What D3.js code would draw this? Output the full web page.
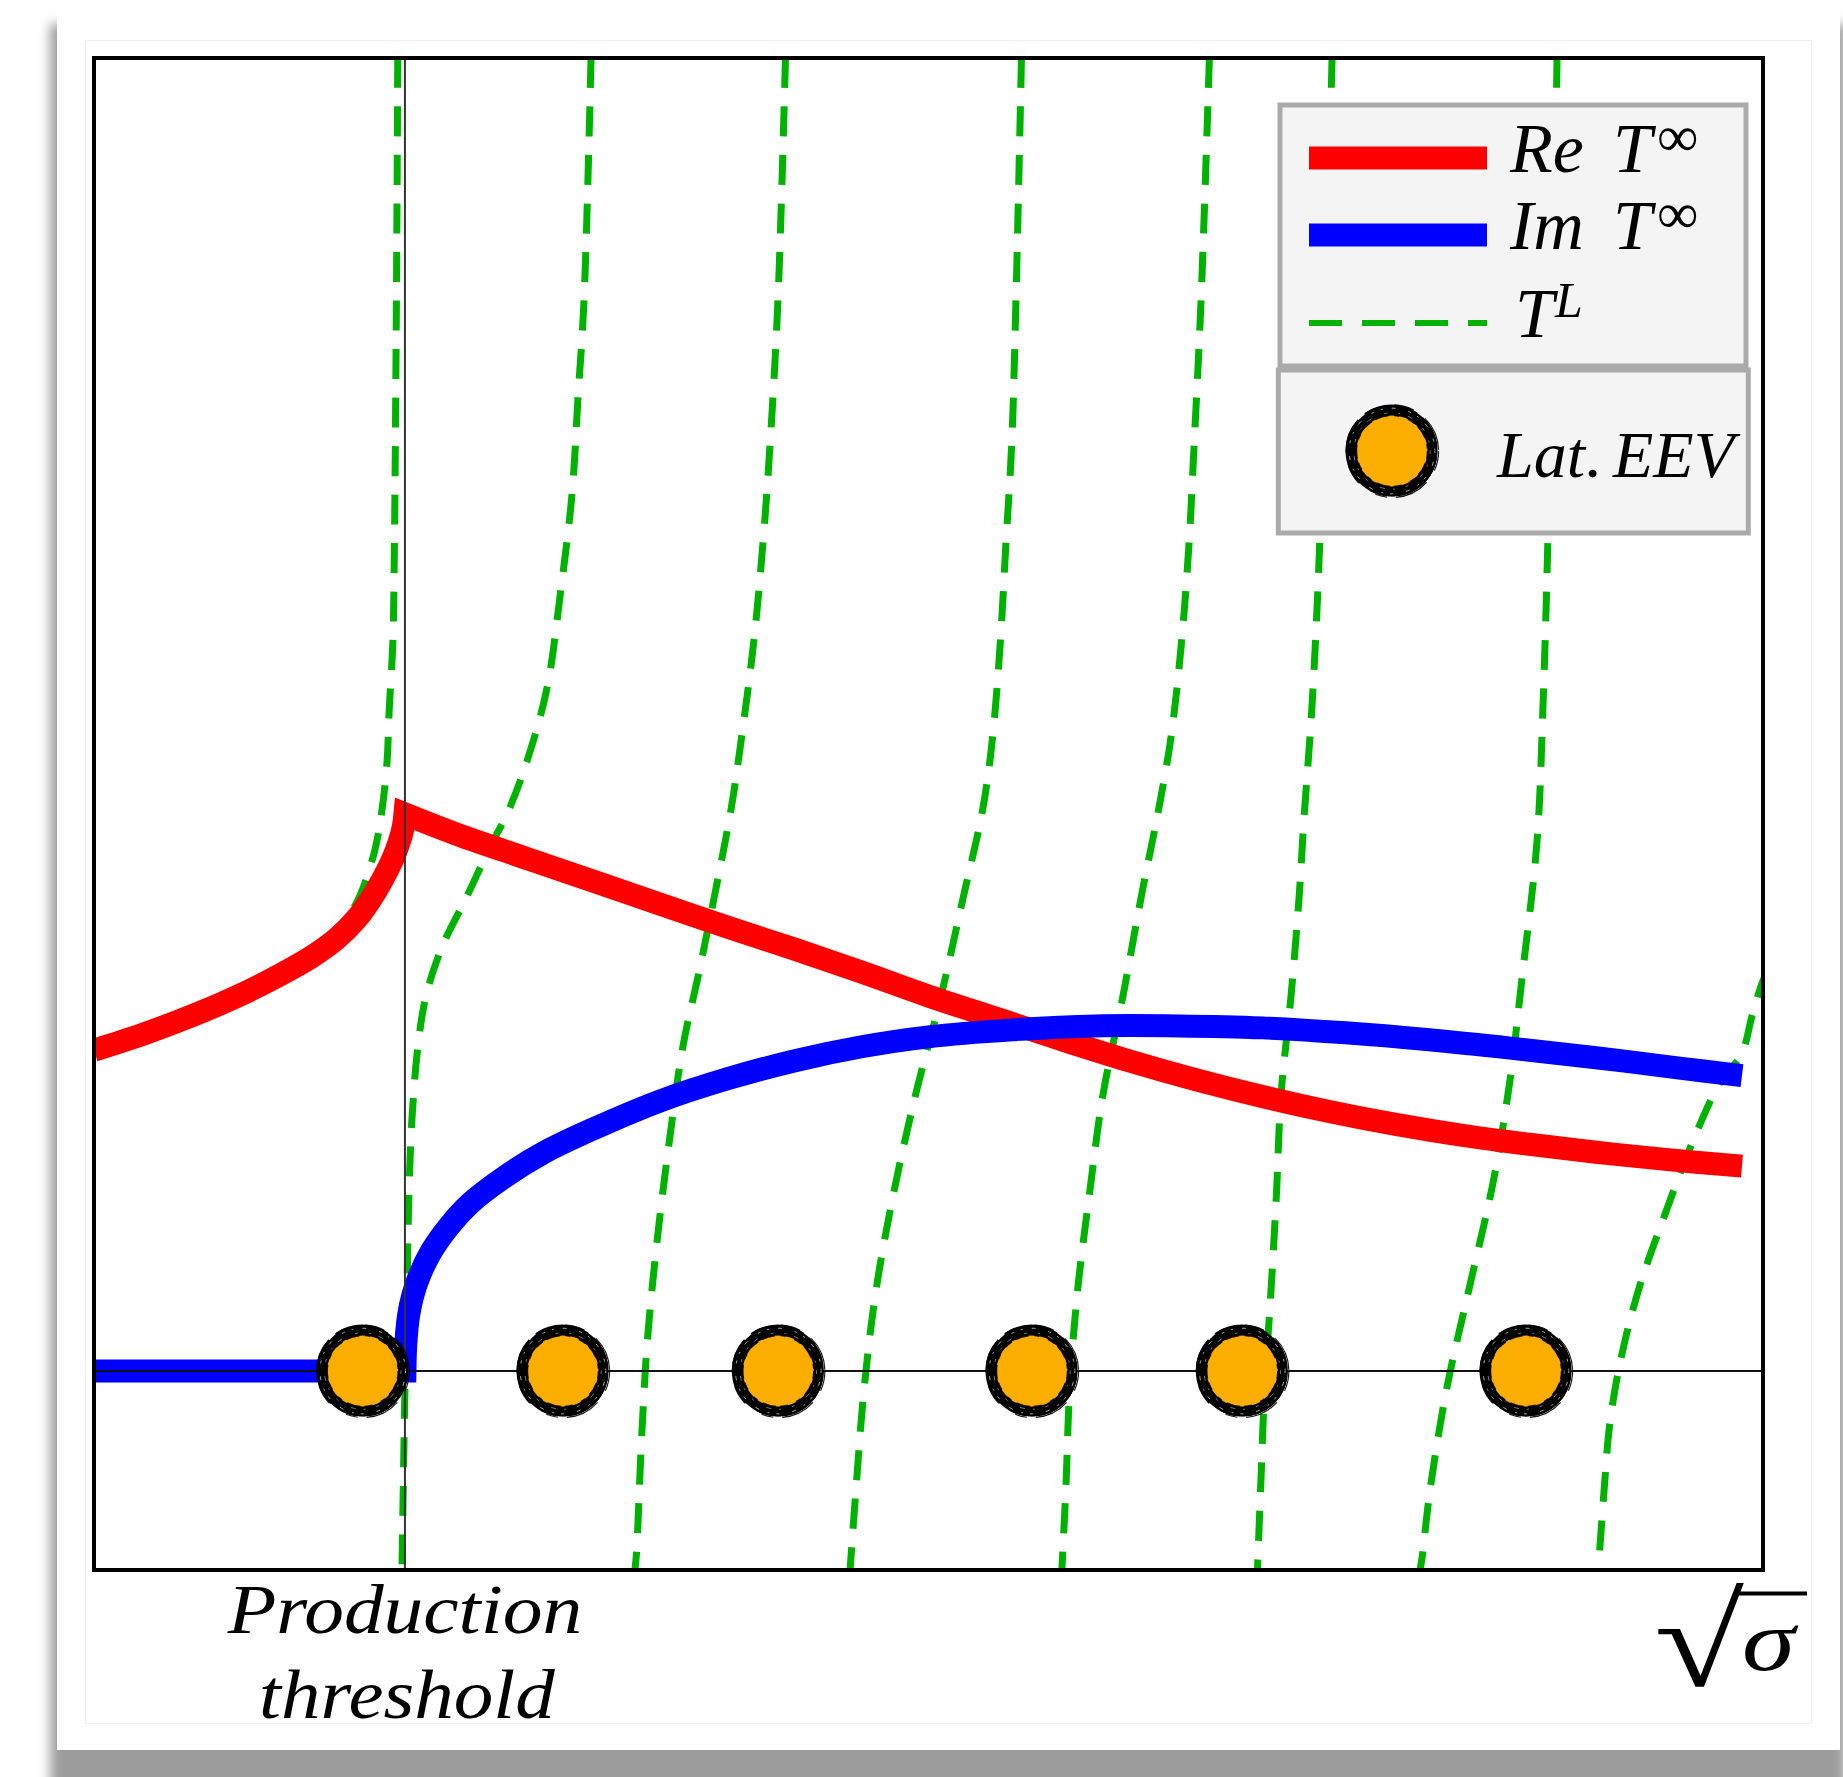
<!DOCTYPE html>
<html>
<head>
<meta charset="utf-8">
<script src="https://cdn.jsdelivr.net/npm/d3@7"></script>
<style>
  html, body { margin: 0; padding: 0; background: #fff; }
  svg { display: block; }
</style>
</head>
<body>
<svg id="chart" width="1843" height="1777"></svg>
<script>
// ---- data (x in units of sqrt(sigma), y in arbitrary amplitude units) ----
const thresholdX = 1.863;

// lattice energy eigenvalues (all on the real axis)
const eevX = [1.61, 2.81, 4.10, 5.62, 6.88, 8.58];

// Re T∞ : below threshold (rising into the cusp) and above threshold
const reBelow = [[0, 1.613], [0.3, 1.695], [0.6, 1.79], [0.9, 1.90], [1.1, 1.985], [1.3, 2.08],
                 [1.45, 2.17], [1.58, 2.28], [1.68, 2.40], [1.76, 2.52], [1.81, 2.615],
                 [1.84, 2.69], [1.855, 2.745], [1.863, 2.80]];
const reAbove = [[1.863, 2.80], [2.2, 2.69], [2.6, 2.575], [3.0, 2.46], [3.4, 2.345], [3.8, 2.23],
                 [4.2, 2.12], [4.6, 2.005], [5.0, 1.885], [5.4, 1.775], [5.8, 1.665], [6.2, 1.56],
                 [6.6, 1.465], [7.0, 1.38], [7.4, 1.305], [7.8, 1.24], [8.2, 1.185], [8.6, 1.14],
                 [9.0, 1.10], [9.4, 1.065], [9.874, 1.030]];

// Im T∞ : zero below threshold, square-root opening above
const imBelow = [[0, 0], [1.863, 0]];
const imAbove = [[1.863, 0], [1.866, 0.10], [1.872, 0.18], [1.885, 0.28], [1.91, 0.38], [1.95, 0.48],
                 [2.02, 0.60], [2.12, 0.72], [2.25, 0.84], [2.45, 0.97], [2.70, 1.10], [3.00, 1.22],
                 [3.40, 1.36], [3.80, 1.47], [4.20, 1.56], [4.60, 1.63], [5.00, 1.68], [5.50, 1.715],
                 [6.00, 1.735], [6.50, 1.735], [7.00, 1.725], [7.50, 1.70], [8.00, 1.665], [8.50, 1.622],
                 [9.00, 1.575], [9.50, 1.523], [9.874, 1.485]];

// T^L : finite-volume amplitude branches, each listed top to bottom as [x, y]
const tLBranch1 = [[1.820, 6.60], [1.812, 5.387], [1.800, 4.161], [1.791, 3.673], [1.768, 3.312],
                   [1.756, 3.065], [1.726, 2.824], [1.684, 2.623], [1.600, 2.402], [1.520, 2.27]];
const tLBranch2 = [[2.978, 6.60], [2.936, 5.382], [2.900, 4.894], [2.864, 4.407], [2.796, 3.920],
                   [2.714, 3.432], [2.594, 3.065], [2.487, 2.824], [2.367, 2.623], [2.229, 2.377],
                   [2.085, 2.131], [1.989, 1.884], [1.941, 1.633], [1.905, 1.266], [1.887, 0.894],
                   [1.875, 0.402], [1.863, -0.090], [1.845, -1.0]];
const tLBranch3 = [[4.143, 6.60], [4.098, 5.382], [4.050, 4.648], [4.008, 4.161], [3.954, 3.673],
                   [3.880, 3.186], [3.817, 2.824], [3.715, 2.377], [3.625, 2.005], [3.529, 1.633],
                   [3.445, 1.141], [3.373, 0.648], [3.316, 0.156], [3.281, -0.337], [3.250, -0.920],
                   [3.241, -1.0]];
const tLBranch4 = [[5.557, 6.60], [5.524, 5.382], [5.498, 4.648], [5.464, 4.161], [5.431, 3.673],
                   [5.384, 3.186], [5.325, 2.824], [5.207, 2.377], [5.075, 1.884], [4.922, 1.387],
                   [4.791, 0.894], [4.685, 0.402], [4.614, -0.090], [4.566, -0.588], [4.530, -1.0]];
const tLBranch5 = [[6.683, 6.60], [6.633, 5.382], [6.591, 4.648], [6.561, 4.161], [6.517, 3.673],
                   [6.453, 3.186], [6.379, 2.824], [6.273, 2.377], [6.165, 1.884], [6.045, 1.387],
                   [5.965, 0.894], [5.893, 0.402], [5.846, -0.090], [5.823, -0.588], [5.799, -1.0]];
const tLBranch6 = [[7.418, 6.60], [7.382, 5.382], [7.346, 4.206], [7.298, 3.347], [7.250, 2.779],
                   [7.220, 2.377], [7.172, 1.884], [7.112, 1.387], [7.085, 0.894], [7.052, 0.402],
                   [7.014, -0.090], [6.990, -0.588], [6.971, -1.0]];
const tLBranch7 = [[8.766, 6.60], [8.742, 5.382], [8.712, 4.206], [8.682, 3.347], [8.646, 2.663],
                   [8.556, 1.975], [8.484, 1.462], [8.382, 0.945], [8.244, 0.432], [8.107, -0.080],
                   [8.005, -0.598], [7.957, -0.940], [7.945, -1.0]];
const tLBranch8 = [[10.03, 2.02], [9.99, 1.94], [9.934, 1.784], [9.87, 1.59], [9.75, 1.462],
                   [9.563, 1.121], [9.407, 0.774], [9.263, 0.432], [9.156, 0.090], [9.084, -0.251],
                   [9.048, -0.598], [9.018, -0.940], [9.012, -1.0]];
const tLBranches = [tLBranch1, tLBranch2, tLBranch3, tLBranch4, tLBranch5, tLBranch6, tLBranch7, tLBranch8];

const xDomain = [0, 10];
const yDomain = [-1, 6.6];

// ---- layout ----
const frame = { left: 94, top: 58, right: 1763, bottom: 1570 };
const colors = { re: "#ff0000", im: "#0000ff", tl: "#00b200", eev: "#fcae00" };
const serif = "'Liberation Serif', 'Times New Roman', serif";

const svg = d3.select("#chart");
const x = d3.scaleLinear().domain(xDomain).range([frame.left, frame.right]);
const y = d3.scaleLinear().domain(yDomain).range([frame.bottom, frame.top]);

const defs = svg.append("defs");
defs.append("filter").attr("id", "soft")
  .attr("x", "-5%").attr("y", "-5%").attr("width", "110%").attr("height", "110%")
  .append("feGaussianBlur").attr("stdDeviation", 6);
defs.append("clipPath").attr("id", "plotClip")
  .append("rect")
  .attr("x", frame.left + 2).attr("y", frame.top + 2)
  .attr("width", frame.right - frame.left - 4).attr("height", frame.bottom - frame.top - 4);

// ---- card with soft shadow ----
svg.append("rect").attr("x", 50).attr("y", 24).attr("width", 1796).attr("height", 1790)
  .attr("fill", "#9c9c9c").attr("filter", "url(#soft)");
svg.append("rect").attr("x", 57).attr("y", 10).attr("width", 1783).attr("height", 1740)
  .attr("fill", "#ffffff");
svg.append("rect").attr("x", 85.5).attr("y", 40.5).attr("width", 1726).attr("height", 1683)
  .attr("fill", "none").attr("stroke", "#eeeeee").attr("stroke-width", 1);

// plot background
svg.append("rect").attr("x", frame.left).attr("y", frame.top)
  .attr("width", frame.right - frame.left).attr("height", frame.bottom - frame.top)
  .attr("fill", "#fff");

const plot = svg.append("g").attr("clip-path", "url(#plotClip)");

// ---- T^L dashed branches ----
const branchLine = d3.line().x(d => x(d[0])).y(d => y(d[1])).curve(d3.curveCatmullRom.alpha(0.5));
plot.append("g").selectAll("path").data(tLBranches).join("path")
  .attr("d", branchLine)
  .attr("fill", "none")
  .attr("stroke", colors.tl)
  .attr("stroke-width", 7)
  .attr("stroke-dasharray", "30 18.5");

// ---- Re / Im T∞ ----
const smooth = d3.line().x(d => x(d[0])).y(d => y(d[1])).curve(d3.curveCatmullRom.alpha(0.5));
const straight = d3.line().x(d => x(d[0])).y(d => y(d[1]));
// join two pieces into one path so the corner at threshold is a sharp miter
const joined = (a, b) => a + b.replace(/^M[^A-Za-z]*/, "");

plot.append("path")
  .attr("d", joined(smooth(reBelow), smooth(reAbove)))
  .attr("fill", "none").attr("stroke", colors.re).attr("stroke-width", 23)
  .attr("stroke-linejoin", "miter").attr("stroke-miterlimit", 10);

plot.append("path")
  .attr("d", joined(straight(imBelow), smooth(imAbove)))
  .attr("fill", "none").attr("stroke", colors.im).attr("stroke-width", 23)
  .attr("stroke-linejoin", "miter").attr("stroke-miterlimit", 10);

// ---- threshold and zero lines ----
svg.append("line")
  .attr("x1", x(thresholdX)).attr("x2", x(thresholdX))
  .attr("y1", frame.top).attr("y2", frame.bottom)
  .attr("stroke", "#333").attr("stroke-width", 2);
svg.append("line")
  .attr("x1", frame.left).attr("x2", frame.right)
  .attr("y1", y(0)).attr("y2", y(0))
  .attr("stroke", "#111").attr("stroke-width", 2);

// ---- brushed EEV markers ----
const ringStrokes = [
  { r: 40.5, w: 10,  dash: null,                 dx: 0,    dy: 0,    color: "#000", op: 1 },
  { r: 41.8, w: 3.4, dash: null,                 dx: 1.5,  dy: 1.7,  color: "#000", op: 1 },
  { r: 44.8, w: 2.2, dash: "55 7 30 12 70 9",    dx: -0.6, dy: -0.6, color: "#000", op: 1 },
  { r: 46.3, w: 1.2, dash: "20 14 35 9 12 20",   dx: 0.3,  dy: 0.2,  color: "#000", op: 0.9 },
  { r: 35.6, w: 1.6, dash: "8 4 14 6 5 9",       dx: 0,    dy: 0,    color: "#000", op: 0.9 },
  { r: 42.8, w: 0.9, dash: "2 9 4 13 3 7",       dx: 0,    dy: 0,    color: "#fff", op: 0.75 },
  { r: 38.2, w: 0.8, dash: "3 11 2 8 5 14",      dx: 0,    dy: 0,    color: "#fff", op: 0.6 }
];
function drawMarker(g, cx, cy) {
  g.append("circle").attr("cx", cx).attr("cy", cy).attr("r", 36).attr("fill", colors.eev);
  ringStrokes.forEach(s => {
    g.append("circle")
      .attr("cx", cx + s.dx).attr("cy", cy + s.dy).attr("r", s.r)
      .attr("fill", "none").attr("stroke", s.color).attr("stroke-width", s.w)
      .attr("stroke-opacity", s.op)
      .attr("stroke-dasharray", s.dash);
  });
}
const markers = svg.append("g");
eevX.forEach(v => drawMarker(markers, x(v), y(0)));

// ---- frame ----
svg.append("rect").attr("x", frame.left).attr("y", frame.top)
  .attr("width", frame.right - frame.left).attr("height", frame.bottom - frame.top)
  .attr("fill", "none").attr("stroke", "#000").attr("stroke-width", 4);

// ---- legend ----
const leg = svg.append("g");
leg.append("rect").attr("x", 1280).attr("y", 105).attr("width", 466).attr("height", 261)
  .attr("fill", "#f4f4f4").attr("stroke", "#aaaaaa").attr("stroke-width", 5);
leg.append("rect").attr("x", 1278.3).attr("y", 370).attr("width", 470).attr("height", 163)
  .attr("fill", "#f4f4f4").attr("stroke", "#aaaaaa").attr("stroke-width", 5);

leg.append("line").attr("x1", 1309).attr("x2", 1487).attr("y1", 158).attr("y2", 158)
  .attr("stroke", colors.re).attr("stroke-width", 23);
leg.append("line").attr("x1", 1309).attr("x2", 1487).attr("y1", 235).attr("y2", 235)
  .attr("stroke", colors.im).attr("stroke-width", 23);
leg.append("line").attr("x1", 1309).attr("x2", 1487).attr("y1", 323).attr("y2", 323)
  .attr("stroke", colors.tl).attr("stroke-width", 6).attr("stroke-dasharray", "33 20");
drawMarker(leg, 1392, 451);

function mathLabel(g, xPos, base, main, sup) {
  const t = g.append("text").attr("font-family", serif).attr("fill", "#000");
  main.forEach(m => t.append("tspan").attr("x", xPos + m.dx).attr("y", base)
    .attr("font-size", m.size).attr("font-style", "italic").text(m.text));
  if (sup) t.append("tspan").attr("x", xPos + sup.dx).attr("y", base + sup.dy)
    .attr("font-size", sup.size).attr("font-style", sup.italic ? "italic" : "normal").text(sup.text);
}
mathLabel(leg, 1510, 172, [{ text: "Re", dx: 0, size: 70 }, { text: "T", dx: 103, size: 70 }],
  { text: "∞", dx: 147, dy: -16, size: 58 });
mathLabel(leg, 1510, 249, [{ text: "Im", dx: 0, size: 70 }, { text: "T", dx: 103, size: 70 }],
  { text: "∞", dx: 147, dy: -16, size: 58 });
mathLabel(leg, 1515, 337, [{ text: "T", dx: 0, size: 70 }],
  { text: "L", dx: 40, dy: -20, size: 50, italic: true });
mathLabel(leg, 1497, 477, [{ text: "Lat", dx: 0, size: 66 }, { text: ".", dx: 89, size: 66 },
  { text: "EEV", dx: 116, size: 66 }], null);

// ---- axis annotations ----
const ann = svg.append("g").attr("font-family", serif).attr("font-style", "italic").attr("fill", "#000");
ann.append("text").attr("transform", `translate(${x(thresholdX)},1633) scale(1.135,1)`)
  .attr("text-anchor", "middle").attr("font-size", 70).text("Production");
ann.append("text").attr("transform", `translate(${x(thresholdX) + 2},1718) scale(1.13,1)`)
  .attr("text-anchor", "middle").attr("font-size", 70).text("threshold");

// sqrt(sigma) label: radical glyph stretched to span the argument, plus vinculum
const sq = svg.append("g").attr("font-family", serif).attr("fill", "#000");
sq.append("text").attr("transform", "translate(1660,1686) scale(1.46,1.16)")
  .attr("x", -4).attr("y", 0).attr("font-size", 112).text("√");
sq.append("line").attr("x1", 1739).attr("x2", 1807).attr("y1", 1593.5).attr("y2", 1593.5)
  .attr("stroke", "#000").attr("stroke-width", 4);
sq.append("text").attr("transform", "translate(1742,1670) scale(1.25,1)")
  .attr("font-size", 86).attr("font-style", "italic").text("σ");
</script>
</body>
</html>
